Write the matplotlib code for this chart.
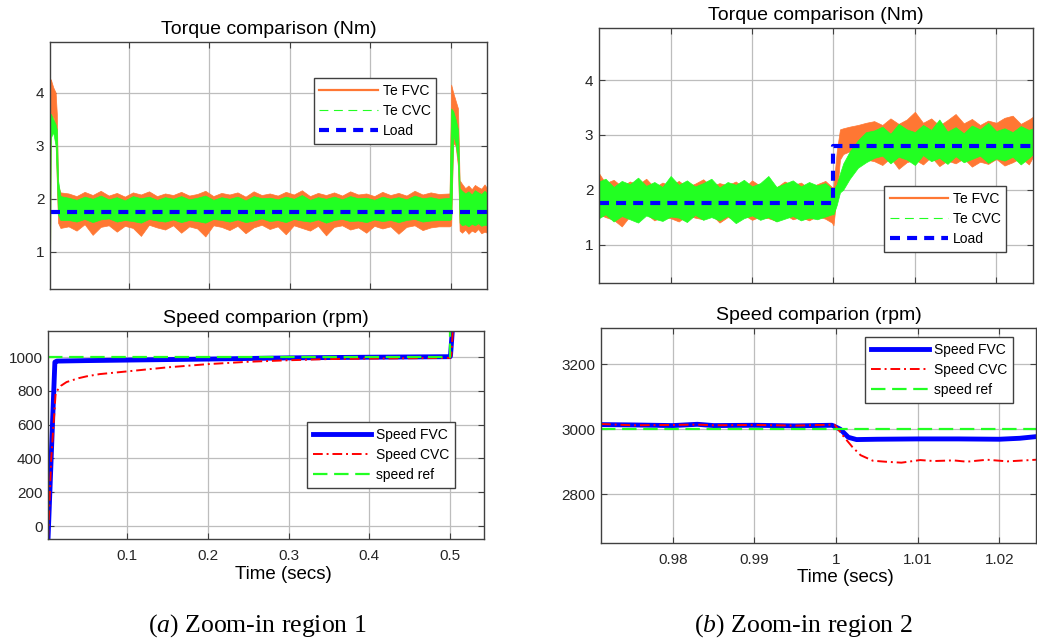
import numpy as np
import matplotlib.pyplot as plt
from matplotlib.lines import Line2D

plt.rcParams['font.family'] = ['Liberation Sans', 'DejaVu Sans']
plt.rcParams['mathtext.fontset'] = 'custom'
plt.rcParams['mathtext.it'] = 'Liberation Serif:italic'
plt.rcParams['mathtext.rm'] = 'Liberation Serif'

ORANGE = '#FF7733'
GREEN = '#22FF22'
BLUE = '#0000FF'
RED = '#FF0000'

# ---------------- zoom-in region 1 : torque (Nm), envelopes of the noisy signals
tl_t = [0.002, 0.003, 0.006, 0.009, 0.0105, 0.012, 0.015,
        0.025, 0.035, 0.045, 0.055, 0.065, 0.075, 0.085, 0.095, 0.105, 0.115,
        0.125, 0.135, 0.145, 0.155, 0.165, 0.175, 0.185, 0.195, 0.205, 0.215,
        0.225, 0.235, 0.245, 0.255, 0.265, 0.275, 0.285, 0.295, 0.305, 0.315,
        0.325, 0.335, 0.345, 0.355, 0.365, 0.375, 0.385, 0.395, 0.405, 0.415,
        0.425, 0.435, 0.445, 0.455, 0.465, 0.475, 0.485,
        0.4985, 0.5005, 0.503, 0.506, 0.509, 0.511, 0.514, 0.518, 0.522, 0.526,
        0.530, 0.534, 0.538, 0.542, 0.545]
tl_fvc_hi = [4.15, 4.25, 4.10, 4.00, 3.60, 2.25, 2.12,
             2.10, 2.05, 2.13, 2.07, 2.15, 2.06, 2.11, 2.04, 2.12, 2.08,
             2.14, 2.05, 2.10, 2.07, 2.13, 2.06, 2.09, 2.15, 2.05, 2.11,
             2.08, 2.12, 2.04, 2.14, 2.07, 2.10, 2.06, 2.13, 2.08, 2.16,
             2.05, 2.11, 2.07, 2.12, 2.06, 2.14, 2.08, 2.10, 2.05, 2.13,
             2.07, 2.11, 2.06, 2.15, 2.08, 2.12, 2.09,
             2.10, 4.15, 4.00, 3.85, 3.70, 2.35, 2.28, 2.20, 2.25, 2.18,
             2.26, 2.22, 2.19, 2.27, 2.20]
tl_fvc_lo = [0.45, 3.30, 3.60, 3.10, 2.30, 1.55, 1.45,
             1.48, 1.40, 1.52, 1.32, 1.47, 1.50, 1.38, 1.49, 1.45, 1.30,
             1.51, 1.46, 1.42, 1.50, 1.36, 1.48, 1.44, 1.29, 1.50, 1.47,
             1.41, 1.49, 1.35, 1.46, 1.51, 1.43, 1.48, 1.33, 1.50, 1.45,
             1.40, 1.49, 1.31, 1.47, 1.50, 1.42, 1.46, 1.36, 1.49, 1.44,
             1.48, 1.34, 1.47, 1.50, 1.41, 1.46, 1.48,
             1.48, 1.50, 3.05, 3.00, 2.60, 1.40, 1.36, 1.42, 1.34, 1.40,
             1.37, 1.43, 1.35, 1.38, 1.36]
tl_cvc_hi = [3.45, 3.60, 3.50, 3.40, 3.30, 2.35, 2.05,
             2.02, 1.98, 2.04, 2.00, 2.06, 1.99, 2.03, 1.97, 2.05, 2.01,
             2.04, 1.98, 2.03, 2.00, 2.05, 1.99, 2.02, 2.06, 1.98, 2.03,
             2.00, 2.04, 1.97, 2.05, 2.01, 2.02, 1.99, 2.04, 2.00, 2.07,
             1.98, 2.03, 2.00, 2.04, 1.99, 2.05, 2.01, 2.02, 1.98, 2.04,
             2.00, 2.03, 1.99, 2.06, 2.01, 2.03, 2.00,
             2.02, 3.70, 3.65, 3.50, 3.30, 2.20, 2.15, 2.10, 2.14, 2.08,
             2.16, 2.12, 2.09, 2.15, 2.10]
tl_cvc_lo = [0.45, 3.15, 3.25, 3.00, 2.40, 1.70, 1.60,
             1.60, 1.57, 1.62, 1.56, 1.61, 1.63, 1.57, 1.60, 1.58, 1.55,
             1.62, 1.59, 1.57, 1.61, 1.56, 1.60, 1.58, 1.55, 1.62, 1.60,
             1.57, 1.61, 1.56, 1.59, 1.63, 1.58, 1.60, 1.56, 1.62, 1.59,
             1.57, 1.61, 1.55, 1.60, 1.62, 1.58, 1.59, 1.56, 1.61, 1.58,
             1.60, 1.56, 1.60, 1.62, 1.57, 1.59, 1.60,
             1.60, 1.62, 3.20, 3.05, 2.70, 1.55, 1.50, 1.52, 1.48, 1.53,
             1.50, 1.54, 1.49, 1.51, 1.50]
tl_load_t = [0.002, 0.545]
tl_load = [1.75, 1.75]

# ---------------- zoom-in region 1 : speed (rpm)
bl_ref_t = [0.002, 0.5, 0.545]
bl_ref = [1000, 3000, 3000]
bl_fvc_t = [0.002, 0.0105, 0.013, 0.05, 0.1, 0.2, 0.3, 0.4, 0.5, 0.5005, 0.5035]
bl_fvc = [-80, 970, 976, 979, 982, 988, 995, 999, 1002, 1005, 1200]
bl_cvc_t = [0.002, 0.006, 0.0115, 0.018, 0.025, 0.04, 0.05, 0.066, 0.1, 0.15,
            0.2, 0.25, 0.3, 0.35, 0.4, 0.45, 0.5, 0.5015, 0.504]
bl_cvc = [-80, 400, 790, 830, 852, 875, 886, 899, 915, 939,
          958, 972, 981, 988, 991, 993, 995, 1010, 1200]

# ---------------- zoom-in region 2 : torque (Nm)
tr_t = [0.9712, 0.972, 0.973, 0.974, 0.975, 0.976, 0.977, 0.978, 0.979, 0.980,
        0.981, 0.982, 0.983, 0.984, 0.985, 0.986, 0.987, 0.988, 0.989, 0.990,
        0.991, 0.992, 0.993, 0.994, 0.995, 0.996, 0.997, 0.998, 0.999, 0.9998,
        1.0000, 1.0004, 1.0008, 1.0012, 1.0020, 1.0030, 1.0040,
        1.005, 1.006, 1.007, 1.008, 1.009, 1.010, 1.011, 1.012, 1.013, 1.014,
        1.015, 1.016, 1.017, 1.018, 1.019, 1.020, 1.021, 1.022, 1.023, 1.024, 1.0245]
tr_fvc_hi = [2.30, 2.12, 2.18, 2.06, 2.15, 2.09, 2.20, 2.04, 2.13, 2.07,
             2.16, 2.05, 2.11, 2.19, 2.06, 2.12, 2.08, 2.15, 2.03, 2.17,
             2.07, 2.11, 2.04, 2.15, 2.08, 2.13, 2.02, 2.10, 2.16, 2.05,
             2.05, 2.70, 3.10, 3.12, 3.15, 3.18, 3.22,
             3.25, 3.18, 3.30, 3.20, 3.28, 3.42, 3.22, 3.30, 3.17, 3.27,
             3.38, 3.21, 3.29, 3.18, 3.26, 3.22, 3.31, 3.35, 3.20, 3.28, 3.33]
tr_fvc_lo = [1.55, 1.50, 1.45, 1.33, 1.52, 1.47, 1.56, 1.44, 1.51, 1.48,
             1.42, 1.53, 1.49, 1.46, 1.55, 1.40, 1.50, 1.47, 1.54, 1.45,
             1.51, 1.48, 1.43, 1.55, 1.46, 1.50, 1.44, 1.52, 1.47, 1.40,
             1.35, 1.90, 2.55, 2.65, 2.70, 2.62, 2.55,
             2.52, 2.45, 2.58, 2.38, 2.50, 2.55, 2.46, 2.60, 2.43, 2.53,
             2.48, 2.57, 2.42, 2.51, 2.47, 2.56, 2.44, 2.50, 2.58, 2.46, 2.60]
tr_cvc_hi = [2.15, 2.20, 2.05, 2.16, 2.10, 2.22, 2.07, 2.14, 2.05, 2.25,
             2.09, 2.17, 2.06, 2.12, 2.20, 2.04, 2.14, 2.09, 2.18, 2.06,
             2.12, 2.25, 2.05, 2.11, 2.17, 2.06, 2.14, 2.08, 2.12, 2.02,
             2.00, 2.10, 2.30, 2.48, 2.70, 2.90, 3.05,
             3.08, 3.15, 3.02, 3.20, 3.10, 3.05, 3.18, 3.09, 3.28, 3.06,
             3.14, 3.03, 3.17, 3.10, 3.22, 3.07, 3.12, 3.05, 3.16, 3.09, 3.12]
tr_cvc_lo = [1.48, 1.55, 1.42, 1.52, 1.46, 1.40, 1.53, 1.47, 1.43, 1.51,
             1.49, 1.41, 1.54, 1.45, 1.50, 1.44, 1.52, 1.39, 1.48, 1.53,
             1.45, 1.50, 1.42, 1.47, 1.52, 1.44, 1.49, 1.46, 1.51, 1.55,
             1.55, 1.72, 1.95, 2.00, 2.20, 2.40, 2.50,
             2.58, 2.62, 2.48, 2.60, 2.55, 2.45, 2.63, 2.52, 2.58, 2.47,
             2.61, 2.50, 2.56, 2.62, 2.49, 2.57, 2.53, 2.60, 2.46, 2.58, 2.65]
tr_load_t = [0.9712, 1.0, 1.0245]
tr_load = [1.75, 2.8, 2.8]

# ---------------- zoom-in region 2 : speed (rpm)
br_ref_t = [0.9712, 1.0245]
br_ref = [3000, 3000]
br_fvc_t = [0.9712, 0.975, 0.98, 0.983, 0.985, 0.99, 0.995, 0.9995, 1.0005, 1.0015,
            1.0025, 1.005, 1.01, 1.015, 1.02, 1.0225, 1.0245]
br_fvc = [3014, 3013, 3011, 3015, 3011, 3012, 3010, 3012, 3000, 2975,
          2968, 2969, 2970, 2970, 2969, 2972, 2977]
br_cvc_t = [0.9712, 0.975, 0.98, 0.983, 0.985, 0.99, 0.995, 0.9998, 1.001, 1.002,
            1.003, 1.0045, 1.006, 1.008, 1.0103, 1.012, 1.0144, 1.016, 1.0185, 1.021, 1.0245]
br_cvc = [3016, 3012, 3013, 3014, 3012, 3013, 3011, 3014, 2975, 2945,
          2920, 2903, 2900, 2897, 2905, 2902, 2904, 2900, 2906, 2901, 2906]

torque_ticks = [1, 2, 3, 4]
t1_ticks = [0.1, 0.2, 0.3, 0.4, 0.5]
t2_ticks = [0.98, 0.99, 1.0, 1.01, 1.02]
t2_labels = ['0.98', '0.99', '1', '1.01', '1.02']


def style(ax):
    ax.grid(True, color='#bdbdbd', lw=0.9)
    ax.set_axisbelow(True)
    for s in ax.spines.values():
        s.set_color('#404040')
        s.set_linewidth(1.0)
    ax.tick_params(direction='in', length=4, width=0.8, color='#404040',
                   top=True, right=True, labelsize=11, labelcolor='#262626')
    ax.tick_params(axis='y', pad=4)
    ax.tick_params(axis='x', pad=7)


def legend(ax, handles, labels, anchor):
    lg = ax.legend(handles, labels, loc='upper left', bbox_to_anchor=anchor,
                   borderaxespad=0, fontsize=10, handlelength=4.2, handletextpad=0.35,
                   labelspacing=0.45, borderpad=0.4, fancybox=False, framealpha=1)
    lg.get_frame().set_edgecolor('#404040')
    lg.get_frame().set_linewidth(1.0)


fig = plt.figure(figsize=(10.37, 6.43), dpi=100)

ax_tl = fig.add_axes([0.0482, 0.5505, 0.4214, 0.384])
ax_bl = fig.add_axes([0.0463, 0.1617, 0.4204, 0.3235])
ax_tr = fig.add_axes([0.5776, 0.560, 0.4185, 0.3966])
ax_br = fig.add_axes([0.5796, 0.1555, 0.4195, 0.3344])

torque_handles = [Line2D([], [], color=ORANGE, lw=1.6),
                  Line2D([], [], color=GREEN, lw=0.8, ls=(0, (8, 5))),
                  Line2D([], [], color=BLUE, lw=3, ls=(0, (2.4, 1.7)))]
torque_labels = ['Te FVC', 'Te CVC', 'Load']

# torque, region 1
ax = ax_tl
ax.fill_between(tl_t, tl_fvc_lo, tl_fvc_hi, color=ORANGE, lw=0.5)
ax.fill_between(tl_t, tl_cvc_lo, tl_cvc_hi, color=GREEN, lw=0.5)
ax.plot(tl_load_t, tl_load, color=BLUE, lw=3, ls=(0, (2.4, 1.7)))
ax.set_xlim(0.002, 0.545)
ax.set_ylim(0.3, 4.95)
ax.set_xticks(t1_ticks)
ax.set_xticklabels([])
ax.set_yticks(torque_ticks)
ax.set_title('Torque comparison (Nm)', fontsize=14, pad=6)
style(ax)
legend(ax, torque_handles, torque_labels, (0.604, 0.854))

# torque, region 2
ax = ax_tr
ax.fill_between(tr_t, tr_fvc_lo, tr_fvc_hi, color=ORANGE, lw=0.5)
ax.fill_between(tr_t, tr_cvc_lo, tr_cvc_hi, color=GREEN, lw=0.5)
ax.plot(tr_load_t, tr_load, color=BLUE, lw=3, ls=(0, (2.4, 1.7)), drawstyle='steps-post')
ax.set_xlim(0.9712, 1.0245)
ax.set_ylim(0.3, 4.95)
ax.set_xticks(t2_ticks)
ax.set_xticklabels([])
ax.set_yticks(torque_ticks)
ax.set_title('Torque comparison (Nm)', fontsize=14, pad=6)
style(ax)
legend(ax, torque_handles, torque_labels, (0.657, 0.380))

speed_styles = dict(fvc=dict(color=BLUE, lw=3.5),
                    cvc=dict(color=RED, lw=1.4, ls=(0, (5, 2, 1, 2))),
                    ref=dict(color=GREEN, lw=1.6, ls=(0, (6.5, 3))))
speed_labels = ['Speed FVC', 'Speed CVC', 'speed ref']

# speed, region 1
ax = ax_bl
l1, = ax.plot(bl_fvc_t, bl_fvc, **speed_styles['fvc'])
l2, = ax.plot(bl_cvc_t, bl_cvc, **speed_styles['cvc'])
l3, = ax.plot(bl_ref_t, bl_ref, drawstyle='steps-post', **speed_styles['ref'])
ax.set_xlim(0.002, 0.542)
ax.set_ylim(-77, 1154)
ax.set_xticks(t1_ticks)
ax.set_xticklabels(['0.1', '0.2', '0.3', '0.4', '0.5'])
ax.set_yticks([0, 200, 400, 600, 800, 1000])
ax.set_title('Speed comparion (rpm)', fontsize=14, pad=6)
ax.set_xlabel('Time (secs)', fontsize=13.5, labelpad=0)
ax.xaxis.set_label_coords(0.541, -0.13)
style(ax)
legend(ax, [l1, l2, l3], speed_labels, (0.594, 0.5625))

# speed, region 2
ax = ax_br
l1, = ax.plot(br_fvc_t, br_fvc, **speed_styles['fvc'])
l2, = ax.plot(br_cvc_t, br_cvc, **speed_styles['cvc'])
l3, = ax.plot(br_ref_t, br_ref, **speed_styles['ref'])
ax.set_xlim(0.9712, 1.0245)
ax.set_ylim(2650, 3311)
ax.set_xticks(t2_ticks)
ax.set_xticklabels(t2_labels)
ax.set_yticks([2800, 3000, 3200])
ax.set_title('Speed comparion (rpm)', fontsize=14, pad=6)
ax.set_xlabel('Time (secs)', fontsize=13.5, labelpad=0)
ax.xaxis.set_label_coords(0.561, -0.12)
style(ax)
legend(ax, [l1, l2, l3], speed_labels, (0.607, 0.958))

fig.text(257 / 1037, 0.017, r'$\mathit{(a)}$ Zoom-in region 1', family='Liberation Serif',
         fontsize=18.5, ha='center', va='baseline')
fig.text(803 / 1037, 0.017, r'$\mathit{(b)}$ Zoom-in region 2', family='Liberation Serif',
         fontsize=18.5, ha='center', va='baseline')

fig.savefig('out.png', dpi=100)
